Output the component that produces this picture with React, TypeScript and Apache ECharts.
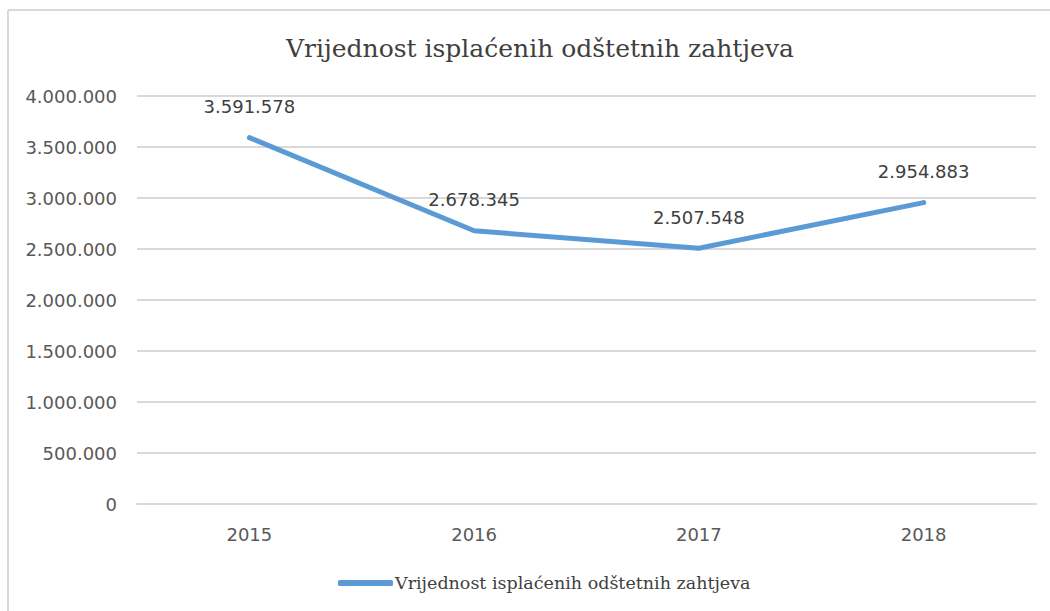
import React, { useEffect, useRef } from "react";
import * as echarts from "echarts";

const categories = ["2015", "2016", "2017", "2018"];
const values = [3591578, 2678345, 2507548, 2954883];
const seriesName = "Vrijednost isplaćenih odštetnih zahtjeva";
const titleText = "Vrijednost isplaćenih odštetnih zahtjeva";

const fmt = (v: number) => String(v).replace(/\B(?=(\d{3})+(?!\d))/g, ".");

export default function App() {
  const ref = useRef<HTMLDivElement>(null);
  useEffect(() => {
    if (!ref.current) return;
    const chart = echarts.init(ref.current, null, { renderer: "svg" });
    chart.setOption({
      animation: false,
      backgroundColor: "#ffffff",
      title: {
        text: titleText,
        left: 281,
        top: 31,
        textStyle: {
          fontFamily: "DejaVu Serif",
          fontWeight: "normal",
          fontSize: 25,
          color: "#404040",
        },
      },
      legend: {
        left: 333,
        top: 569,
        itemWidth: 55,
        itemHeight: 6,
        itemGap: 10,
        icon: "roundRect",
        textStyle: {
          fontFamily: "DejaVu Serif",
          fontSize: 17.5,
          color: "#404040",
          padding: [0, 0, 0, -3],
        },
        data: [seriesName],
      },
      grid: { left: 137, right: 14, top: 96, bottom: 107 },
      xAxis: {
        type: "category",
        data: categories,
        axisLine: { show: true, lineStyle: { color: "#d9d9d9", width: 2 } },
        axisTick: { show: false },
        axisLabel: {
          margin: 21,
          fontFamily: "DejaVu Sans",
          fontSize: 18,
          color: "#595959",
        },
      },
      yAxis: {
        type: "value",
        min: 0,
        max: 4000000,
        interval: 500000,
        axisLine: { show: false },
        axisTick: { show: false },
        splitLine: { lineStyle: { color: "#d9d9d9", width: 2 } },
        axisLabel: {
          margin: 20,
          fontFamily: "DejaVu Sans",
          fontSize: 18,
          color: "#595959",
          formatter: (v: number) => fmt(v),
        },
      },
      series: [
        {
          name: seriesName,
          type: "line",
          data: values,
          symbol: "circle",
          symbolSize: 4,
          lineStyle: { color: "#5b9bd5", width: 5, cap: "round" },
          itemStyle: { color: "#5b9bd5" },
          label: {
            show: true,
            position: "top",
            distance: 20,
            fontFamily: "DejaVu Sans",
            fontSize: 18,
            color: "#404040",
            formatter: (p: any) => fmt(p.value),
          },
        },
      ],
      graphic: [
        {
          type: "line",
          shape: { x1: 8, y1: 10, x2: 1050, y2: 10 },
          style: { stroke: "#d9d9d9", lineWidth: 2 },
        },
        {
          type: "line",
          shape: { x1: 8, y1: 10, x2: 8, y2: 611 },
          style: { stroke: "#d9d9d9", lineWidth: 2 },
        },
      ],
    });
    return () => chart.dispose();
  }, []);
  return (
    <div
      ref={ref}
      style={{ position: "fixed", left: 0, top: 0, width: 1050, height: 611 }}
    />
  );
}
